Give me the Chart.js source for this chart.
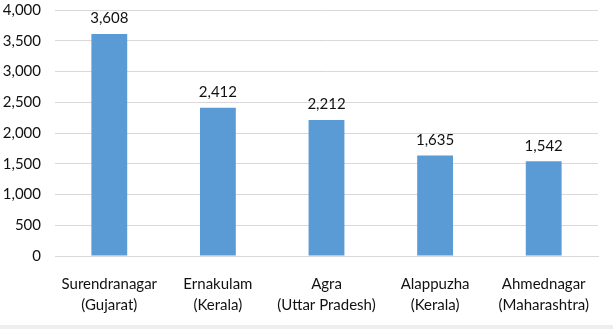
<!DOCTYPE html>
<html>
<head>
<meta charset="utf-8">
<script src="https://cdn.jsdelivr.net/npm/chart.js@4/dist/chart.umd.min.js"></script>
<style>
  html, body { margin: 0; padding: 0; background: #fff; }
  #wrap { width: 613px; height: 329px; position: relative; }
  #wrap:after { content: ''; position: absolute; left: 0; right: 0; top: 325px; height: 4px; background: #eeeeee; }
</style>
</head>
<body>
<div id="wrap"><canvas id="chart" width="613" height="325"></canvas></div>
<script>
// districts and their counts
var districts = [
    ['Surendranagar', '(Gujarat)'],
    ['Ernakulam', '(Kerala)'],
    ['Agra', '(Uttar Pradesh)'],
    ['Alappuzha', '(Kerala)'],
    ['Ahmednagar', '(Maharashtra)']
];
var counts = [3608, 2412, 2212, 1635, 1542];
var yTicks = [0, 500, 1000, 1500, 2000, 2500, 3000, 3500, 4000];

var font = 'Lato, "Open Sans", sans-serif';

function fmt(v){
    return Number(v).toLocaleString('en-US');
}

// value on top of every bar
var barLabels = {
    id: 'barLabels',
    afterDatasetsDraw: function(chart){
        var ctx = chart.ctx;
        var meta = chart.getDatasetMeta(0);
        ctx.save();
        ctx.font = '15px ' + font;
        ctx.fillStyle = '#111';
        ctx.textAlign = 'center';
        ctx.textBaseline = 'bottom';
        meta.data.forEach(function(bar, i){
            ctx.fillText(fmt(counts[i]), bar.x, bar.y - 8);
        });
        ctx.restore();
    }
};

var ctx = document.getElementById('chart').getContext('2d');
var chart = new Chart(ctx, {
    type: 'bar',
    data: {
        labels: districts,
        datasets: [{
            data: counts,
            backgroundColor: '#5b9bd5',
            borderWidth: 0,
            categoryPercentage: 1,
            barPercentage: 0.33
        }]
    },
    options: {
        responsive: false,
        animation: false,
        layout: { padding: { top: 10, right: 15, left: 0, bottom: 0 } },
        plugins: { legend: { display: false }, tooltip: { enabled: false } },
        scales: {
            x: {
                grid: { display: false },
                border: { color: '#d9d9d9' },
                ticks: {
                    color: '#111',
                    font: { family: font, size: 15, lineHeight: 1.45 },
                    padding: 9,
                    maxRotation: 0,
                    autoSkip: false
                },
                afterFit: function(s){ s.height = 69; s.paddingLeft = 0; s.paddingRight = 0; }
            },
            y: {
                min: 0,
                max: 4000,
                afterBuildTicks: function(s){ s.ticks = yTicks.map(function(v){ return { value: v }; }); },
                grid: { color: '#d9d9d9', drawTicks: false },
                border: { display: false },
                ticks: {
                    color: '#111',
                    font: { family: font, size: 15 },
                    padding: 14,
                    callback: function(v){ return fmt(v); }
                },
                afterFit: function(s){ s.width = 55; s.paddingTop = 0; s.paddingBottom = 0; }
            }
        }
    },
    plugins: [barLabels]
});
</script>
</body>
</html>
